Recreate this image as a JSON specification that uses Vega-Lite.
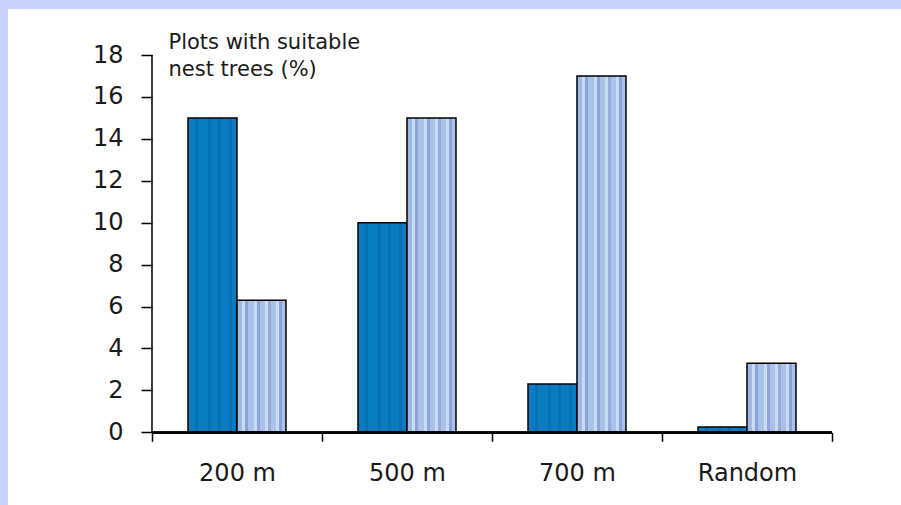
{
  "$schema": "https://vega.github.io/schema/vega-lite/v6.json",
  "width": 893,
  "height": 496,
  "autosize": {"type": "none"},
  "padding": {"left": 8, "top": 9, "right": 0, "bottom": 0},
  "background": "#c8d3fd",
  "view": {"fill": "white", "stroke": null},
  "data": {
    "values": [
      {"distance": "200 m", "series": "S1", "value": 15},
      {"distance": "200 m", "series": "S2", "value": 6.3},
      {"distance": "500 m", "series": "S1", "value": 10},
      {"distance": "500 m", "series": "S2", "value": 15},
      {"distance": "700 m", "series": "S1", "value": 2.3},
      {"distance": "700 m", "series": "S2", "value": 17},
      {"distance": "Random", "series": "S1", "value": 0.25},
      {"distance": "Random", "series": "S2", "value": 3.3}
    ]
  },
  "layer": [
    {
      "transform": [{"filter": "datum.series === 'S1'"}],
      "mark": {
        "type": "bar",
        "stroke": "#000",
        "strokeWidth": 1.5,
        "fill": {
          "gradient": "linear", "x1": 0, "x2": 1, "y1": 0, "y2": 0,
          "stops": [
            {"offset": 0, "color": "#0a7dc2"},
            {"offset": 0.14, "color": "#0a7dc2"},
            {"offset": 0.14, "color": "#086fb2"},
            {"offset": 0.2, "color": "#086fb2"},
            {"offset": 0.2, "color": "#0a7dc2"},
            {"offset": 0.4, "color": "#0a7dc2"},
            {"offset": 0.4, "color": "#086fb2"},
            {"offset": 0.46, "color": "#086fb2"},
            {"offset": 0.46, "color": "#0a7dc2"},
            {"offset": 0.62, "color": "#0a7dc2"},
            {"offset": 0.62, "color": "#086fb2"},
            {"offset": 0.68, "color": "#086fb2"},
            {"offset": 0.68, "color": "#0a7dc2"},
            {"offset": 0.84, "color": "#0a7dc2"},
            {"offset": 0.84, "color": "#086fb2"},
            {"offset": 0.9, "color": "#086fb2"},
            {"offset": 0.9, "color": "#0a7dc2"},
            {"offset": 1, "color": "#0a7dc2"}
          ]
        }
      },
      "encoding": {
        "x": {
          "field": "distance",
          "type": "nominal",
          "sort": ["200 m", "500 m", "700 m", "Random"],
          "scale": {"domain": ["200 m", "500 m", "700 m", "Random"], "paddingInner": 0, "paddingOuter": 0.6265, "align": 0.676},
          "axis": {
            "title": null,
            "orient": "bottom",
            "offset": -72.7,
            "domain": false,
            "tickBand": "extent",
            "tickSize": 9,
            "tickColor": "#000",
            "tickWidth": 1.5,
            "labelAngle": 0,
            "labelFont": "DejaVu Sans",
            "labelFontSize": 24,
            "labelColor": "#1a1a1a",
            "labelPadding": 20
          }
        },
        "xOffset": {
          "field": "series",
          "type": "nominal",
          "scale": {"domain": ["S1", "S2"], "paddingInner": 0, "paddingOuter": 0.735}
        },
        "y": {
          "field": "value",
          "type": "quantitative",
          "scale": {"domain": [-3.468, 20.196], "nice": false, "zero": false},
          "axis": {
            "title": ["Plots with suitable", "nest trees (%)"],
            "orient": "left",
            "offset": -144,
            "values": [0, 2, 4, 6, 8, 10, 12, 14, 16, 18],
            "domain": false,
            "grid": false,
            "tickSize": 11,
            "tickColor": "#000",
            "tickWidth": 1.5,
            "labelFont": "DejaVu Sans",
            "labelFontSize": 24,
            "labelColor": "#1a1a1a",
            "labelPadding": 18,
            "titleAngle": 0,
            "titleAlign": "left",
            "titleBaseline": "alphabetic",
            "titleX": 16,
            "titleY": 39,
            "titleFont": "DejaVu Sans",
            "titleFontSize": 21,
            "titleFontWeight": "normal",
            "titleLineHeight": 27,
            "titleColor": "#1a1a1a"
          }
        },
        "y2": {"datum": 0}
      }
    },
    {
      "transform": [{"filter": "datum.series === 'S2'"}],
      "mark": {
        "type": "bar",
        "stroke": "#000",
        "strokeWidth": 1.5,
        "fill": {
          "gradient": "linear", "x1": 0, "x2": 1, "y1": 0, "y2": 0,
          "stops": [
            {"offset": 0, "color": "#9fb9e6"},
            {"offset": 0.1, "color": "#9fb9e6"},
            {"offset": 0.1, "color": "#c9dcf3"},
            {"offset": 0.16, "color": "#c9dcf3"},
            {"offset": 0.16, "color": "#8aa3dc"},
            {"offset": 0.22, "color": "#8aa3dc"},
            {"offset": 0.22, "color": "#a9c3e8"},
            {"offset": 0.34, "color": "#a9c3e8"},
            {"offset": 0.34, "color": "#c9dcf3"},
            {"offset": 0.4, "color": "#c9dcf3"},
            {"offset": 0.4, "color": "#8ea4dc"},
            {"offset": 0.46, "color": "#8ea4dc"},
            {"offset": 0.46, "color": "#a9c3e8"},
            {"offset": 0.58, "color": "#a9c3e8"},
            {"offset": 0.58, "color": "#c9dcf3"},
            {"offset": 0.64, "color": "#c9dcf3"},
            {"offset": 0.64, "color": "#9aa8dc"},
            {"offset": 0.7, "color": "#9aa8dc"},
            {"offset": 0.7, "color": "#a9c3e8"},
            {"offset": 0.8, "color": "#a9c3e8"},
            {"offset": 0.8, "color": "#c9dcf3"},
            {"offset": 0.86, "color": "#c9dcf3"},
            {"offset": 0.86, "color": "#8aa3dc"},
            {"offset": 0.92, "color": "#8aa3dc"},
            {"offset": 0.92, "color": "#a9c3e8"},
            {"offset": 1, "color": "#a9c3e8"}
          ]
        }
      },
      "encoding": {
        "x": {"field": "distance", "type": "nominal", "sort": ["200 m", "500 m", "700 m", "Random"]},
        "xOffset": {
          "field": "series",
          "type": "nominal",
          "scale": {"domain": ["S1", "S2"], "paddingInner": 0, "paddingOuter": 0.735}
        },
        "y": {"field": "value", "type": "quantitative"},
        "y2": {"datum": 0}
      }
    },
    {
      "mark": {"type": "bar", "fill": "#000", "stroke": null},
      "encoding": {
        "x": {"field": "distance", "type": "nominal", "sort": ["200 m", "500 m", "700 m", "Random"]},
        "y": {"datum": 0.05},
        "y2": {"datum": -0.08}
      }
    },
    {
      "transform": [{"filter": "datum.distance === '200 m' && datum.series === 'S1'"}],
      "mark": {"type": "rule", "stroke": "#000", "strokeWidth": 1.5},
      "encoding": {
        "x": {"field": "distance", "type": "nominal", "bandPosition": 0, "sort": ["200 m", "500 m", "700 m", "Random"]},
        "y": {"datum": 18},
        "y2": {"datum": 0}
      }
    }
  ]
}
